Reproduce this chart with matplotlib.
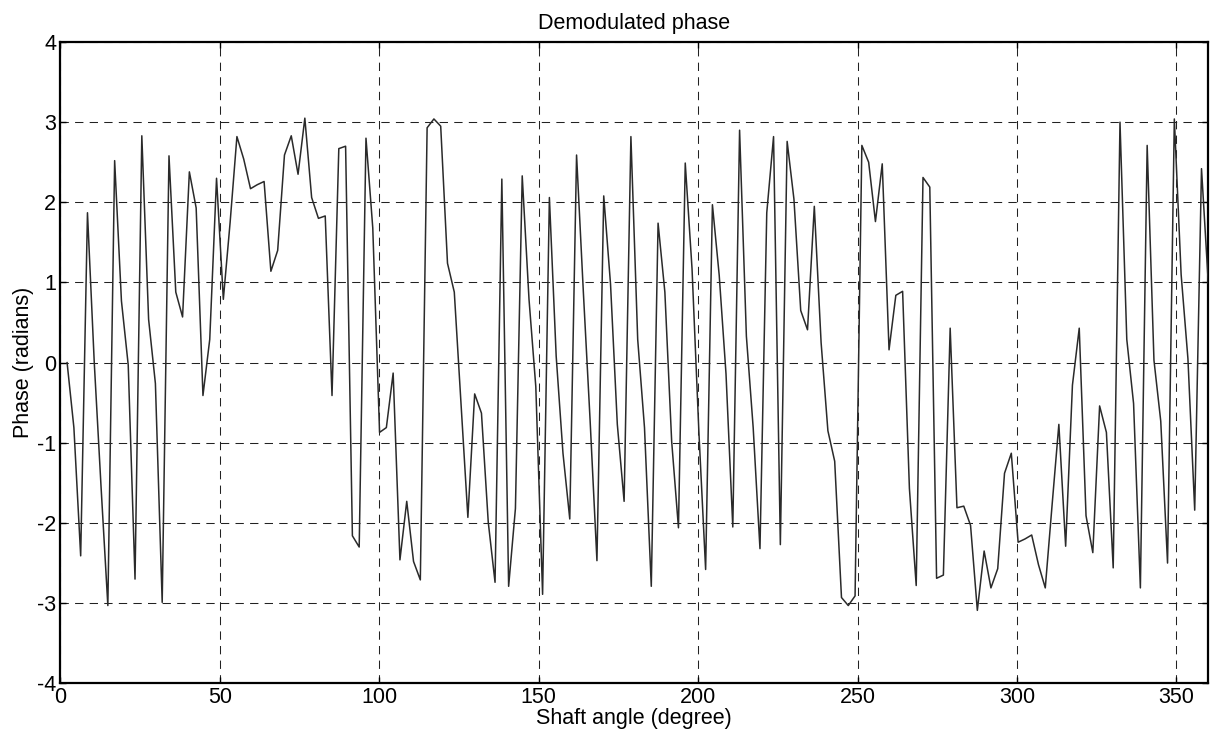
import numpy as np
import matplotlib
matplotlib.use("Agg")
import matplotlib.pyplot as plt

plt.rcParams['font.family'] = ['Liberation Sans', 'DejaVu Sans']
plt.rcParams['lines.scale_dashes'] = False
plt.rcParams['axes.unicode_minus'] = False

n_points = 169
phase = [
    0.00, -0.81, -2.41, 1.87, 0.00, -1.55, -3.03, 2.52, 0.77, -0.03,
    -2.70, 2.83, 0.54, -0.26, -2.99, 2.58, 0.88, 0.57, 2.38, 1.93,
    -0.41, 0.29, 2.30, 0.79, 1.75, 2.82, 2.54, 2.17, 2.22, 2.26,
    1.14, 1.40, 2.59, 2.83, 2.35, 3.05, 2.06, 1.80, 1.83, -0.41,
    2.67, 2.70, -2.16, -2.30, 2.80, 1.68, -0.87, -0.81, -0.13, -2.46,
    -1.73, -2.48, -2.71, 2.93, 3.04, 2.95, 1.24, 0.88, -0.53, -1.93,
    -0.39, -0.63, -1.99, -2.74, 2.29, -2.79, -1.82, 2.33, 0.79, -0.30,
    -2.89, 2.06, 0.08, -1.13, -1.95, 2.59, 0.88, -0.73, -2.47, 2.08,
    0.98, -0.77, -1.73, 2.82, 0.29, -0.81, -2.79, 1.74, 0.88, -0.98,
    -2.06, 2.49, 1.17, -0.85, -2.58, 1.97, 1.09, -0.14, -2.05, 2.90,
    0.33, -0.81, -2.32, 1.87, 2.82, -2.27, 2.76, 2.04, 0.65, 0.41,
    1.95, 0.25, -0.85, -1.23, -2.93, -3.03, -2.91, 2.71, 2.50, 1.76,
    2.48, 0.16, 0.84, 0.89, -1.57, -2.78, 2.31, 2.19, -2.69, -2.65,
    0.43, -1.81, -1.79, -2.03, -3.09, -2.35, -2.81, -2.57, -1.38, -1.13,
    -2.24, -2.20, -2.15, -2.52, -2.81, -1.78, -0.77, -2.29, -0.28, 0.43,
    -1.91, -2.37, -0.54, -0.87, -2.56, 3.00, 0.29, -0.51, -2.81, 2.71,
    0.03, -0.73, -2.50, 3.04, 1.10, 0.05, -1.84, 2.42, 0.99,
]
angle = np.arange(1, n_points + 1) * 360.0 / n_points

x_ticks = [0, 50, 100, 150, 200, 250, 300, 350]
y_ticks = [-4, -3, -2, -1, 0, 1, 2, 3, 4]

fig = plt.figure(figsize=(12.1, 7.4), dpi=100)
ax = fig.add_axes([60.3 / 1210, 1 - 683.3 / 740, (1208.3 - 60.3) / 1210, (683.3 - 42) / 740])

ax.plot(angle, phase, color='#2a2a2a', linewidth=1.1, zorder=3)

ax.set_xlim(0, 360)
ax.set_ylim(-4, 4)
ax.set_xticks(x_ticks)
ax.set_yticks(y_ticks)
ax.grid(True, color='#222222', linestyle=(0, (6, 4.5)), linewidth=0.75)
ax.tick_params(direction='in', length=4.5, width=1.0, top=True, right=True,
               labelsize=15.5, colors='black', pad=3)
for s in ax.spines.values():
    s.set_linewidth(1.6)
    s.set_color('black')

ax.set_title('Demodulated phase', fontsize=15.5, pad=9)
ax.set_xlabel('Shaft angle (degree)', fontsize=15.5, labelpad=0)
ax.set_ylabel('Phase (radians)', fontsize=15.5, labelpad=2)

fig.savefig('out.png', dpi=100)
